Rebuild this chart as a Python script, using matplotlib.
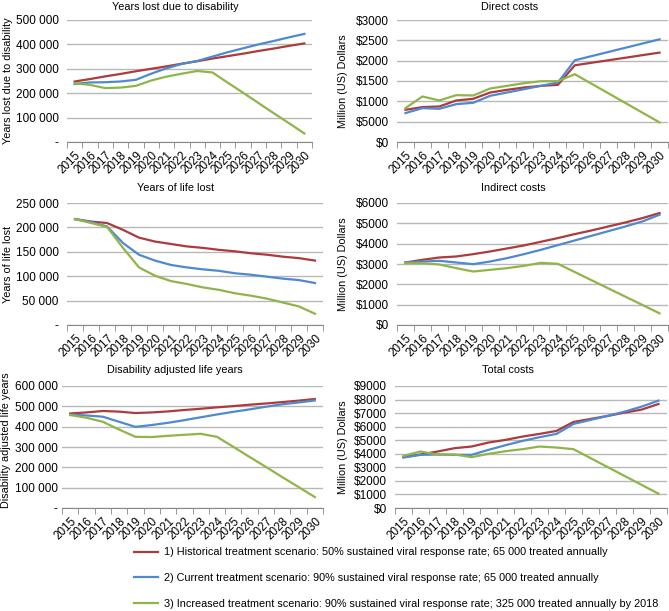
'''
Hepatitis C burden and cost projections, 2015-2030
'''

import matplotlib
matplotlib.use('Agg')
import matplotlib.pyplot as plt
from matplotlib.lines import Line2D

years = [str(y) for y in range(2015, 2031)]

scenario_labels = [
    '1) Historical treatment scenario: 50% sustained viral response rate; 65 000 treated annually',
    '2) Current treatment scenario: 90% sustained viral response rate; 65 000 treated annually',
    '3) Increased treatment scenario: 90% sustained viral response rate; 325 000 treated annually by 2018',
]
colors = ['#AD3A3C', '#4D8AD0', '#8FB548']

# Years lost due to disability
yld_hist = [248000, 258000, 269000, 279000, 290000, 300000, 310000, 321000,
            331000, 342000, 352000, 362000, 373000, 383000, 394000, 404000]
yld_curr = [238000, 244000, 245000, 248000, 255000, 280000, 302000, 320000,
            332000, 350000, 368000, 384000, 400000, 414000, 429000, 443000]
yld_incr = [241000, 234000, 221000, 223000, 230000, 252000, 268000, 280000,
            291000, 285000, 243000, 202000, 160000, 118000, 77000, 35000]

# Direct costs (million USD)
dir_hist = [792, 858, 874, 1021, 1062, 1217, 1283, 1340,
            1381, 1405, 1887, 1949, 2011, 2073, 2136, 2198]
dir_curr = [711, 833, 817, 931, 964, 1136, 1217, 1299,
            1381, 1462, 2010, 2113, 2216, 2319, 2422, 2525]
dir_incr = [833, 1119, 1021, 1152, 1144, 1315, 1381, 1446,
            1495, 1495, 1667, 1430, 1193, 956, 719, 482]

# Years of life lost
yll_hist = [217000, 212000, 209000, 195000, 179000, 171000, 166000, 161000,
            158000, 154000, 151000, 147000, 144000, 140000, 137000, 132000]
yll_curr = [217000, 211000, 202000, 168000, 144000, 132000, 123000, 118000,
            114000, 111000, 106000, 103000, 99000, 95000, 92000, 86000]
yll_incr = [217000, 209000, 201000, 158000, 118000, 101000, 90000, 84000,
            77000, 72000, 65000, 60000, 54000, 46000, 38000, 23000]

# Indirect costs (million USD)
ind_hist = [3074, 3205, 3320, 3370, 3485, 3617, 3765, 3913,
            4094, 4275, 4472, 4653, 4850, 5047, 5260, 5507]
ind_curr = [3074, 3123, 3156, 3074, 2992, 3123, 3288, 3485,
            3699, 3929, 4160, 4390, 4620, 4850, 5096, 5425]
ind_incr = [3041, 3041, 2975, 2795, 2630, 2713, 2795, 2910,
            3058, 3008, 2603, 2197, 1792, 1386, 981, 575]

# Disability adjusted life years
daly_hist = [465000, 470000, 477000, 474000, 467000, 470000, 475000, 482000,
             488000, 495000, 501000, 508000, 514000, 521000, 528000, 536000]
daly_curr = [460000, 455000, 449000, 424000, 399000, 408000, 419000, 432000,
             446000, 460000, 473000, 485000, 498000, 510000, 519000, 529000]
daly_incr = [457000, 444000, 424000, 386000, 350000, 349000, 355000, 360000,
             365000, 350000, 301000, 251000, 202000, 152000, 103000, 54000]

# Total costs (million USD)
tot_hist = [3750, 3946, 4167, 4412, 4534, 4829, 5025, 5270,
            5466, 5687, 6349, 6569, 6790, 7035, 7256, 7672]
tot_curr = [3725, 3921, 3946, 3921, 3921, 4289, 4632, 4951,
            5221, 5466, 6202, 6496, 6790, 7109, 7476, 7921]
tot_incr = [3848, 4167, 3946, 3946, 3750, 3995, 4191, 4338,
            4534, 4460, 4338, 3681, 3024, 2368, 1711, 1054]

yld_ticks = ['-', '100 000', '200 000', '300 000', '400 000', '500 000']
dir_ticks = ['$0', '$5000', '$1000', '$1500', '$2000', '$2500', '$3000']
yll_ticks = ['-', '50 000', '100 000', '150 000', '200 000', '250 000']
ind_ticks = ['$0', '$1000', '$2000', '$3000', '$4000', '$5000', '$6000']
daly_ticks = ['-', '100 000', '200 000', '300 000', '400 000', '500 000', '600 000']
tot_ticks = ['$0', '$1000', '$2000', '$3000', '$4000', '$5000', '$6000',
             '$7000', '$8000', '$9000']

plt.rcParams['font.family'] = ['Liberation Sans', 'DejaVu Sans']

W, H = 669, 611


def add_panel(fig, box, title, title_xy, ylabel, ylabel_xy, series, step,
              ticklabels, ypad=6):
    '''
    Draw one line chart panel; box is (left, right, top, bottom) in pixels
    '''
    left, right, top, bottom = box
    ax = fig.add_axes([left / W, 1 - bottom / H, (right - left) / W,
                       (bottom - top) / H])
    x = list(range(len(years)))
    for values, color in zip(series, colors):
        ax.plot(x, values, color=color, lw=1.6, solid_joinstyle='round')
    ax.set_xlim(-0.5, len(years) - 0.5)
    ax.set_ylim(0, step * (len(ticklabels) - 1))
    ax.set_yticks([step * i for i in range(len(ticklabels))])
    ax.set_yticklabels(ticklabels, fontsize=8.5)
    ax.set_xticks(x)
    ax.set_xticklabels(years, rotation=45, ha='right', rotation_mode='anchor',
                       fontsize=8.4)
    ax.set_xticks([i - 0.5 for i in range(len(years) + 1)], minor=True)
    ax.tick_params(axis='x', which='major', length=0, pad=5)
    ax.tick_params(axis='x', which='minor', length=4, color='#888888')
    ax.tick_params(axis='y', length=0, pad=ypad)
    ax.grid(axis='y', color='#b8b8b8', lw=1)
    ax.set_axisbelow(True)
    for side in ['top', 'right', 'left']:
        ax.spines[side].set_visible(False)
    ax.spines['bottom'].set_color('#888888')
    fig.text(title_xy[0] / W, 1 - title_xy[1] / H, title, ha='center',
             va='center', fontsize=7.8)
    fig.text(ylabel_xy[0] / W, 1 - ylabel_xy[1] / H, ylabel, ha='center',
             va='center', rotation=90, fontsize=7.8)
    return ax


def run():
    '''
    Build all six panels and the shared legend
    '''
    fig = plt.figure(figsize=(W / 100, H / 100), dpi=100)
    money = 'Million (US) Dollars'

    add_panel(fig, (67, 312, 20, 142), 'Years lost due to disability',
              (175, 7), 'Years lost due to disability', (8, 81),
              [yld_hist, yld_curr, yld_incr], 100000, yld_ticks)
    add_panel(fig, (397, 668, 20, 142), 'Direct costs', (510, 7), money,
              (343, 81), [dir_hist, dir_curr, dir_incr], 500, dir_ticks)
    add_panel(fig, (67, 323, 203, 325), 'Years of life lost', (176, 188),
              'Years of life lost', (8, 264),
              [yll_hist, yll_curr, yll_incr], 50000, yll_ticks)
    add_panel(fig, (397, 668, 203, 325), 'Indirect costs', (513, 188), money,
              (343, 264), [ind_hist, ind_curr, ind_incr], 1000, ind_ticks)
    add_panel(fig, (62, 323, 386, 508), 'Disability adjusted life years',
              (175, 370), 'Disability adjusted life years', (6, 440),
              [daly_hist, daly_curr, daly_incr], 100000, daly_ticks, ypad=3)
    add_panel(fig, (395, 667, 386, 508), 'Total costs', (508, 370), money,
              (343, 447), [tot_hist, tot_curr, tot_incr], 1000, tot_ticks)

    handles = [Line2D([], [], color=c, lw=1.6) for c in colors]
    fig.legend(handles, scenario_labels, loc='upper left',
               bbox_to_anchor=(130 / W, 1 - 543 / H), frameon=False,
               fontsize=7.8, handlelength=2.2, handletextpad=0.5,
               labelspacing=1.45, borderaxespad=0)

    fig.savefig('out.png', dpi=100)


run()
